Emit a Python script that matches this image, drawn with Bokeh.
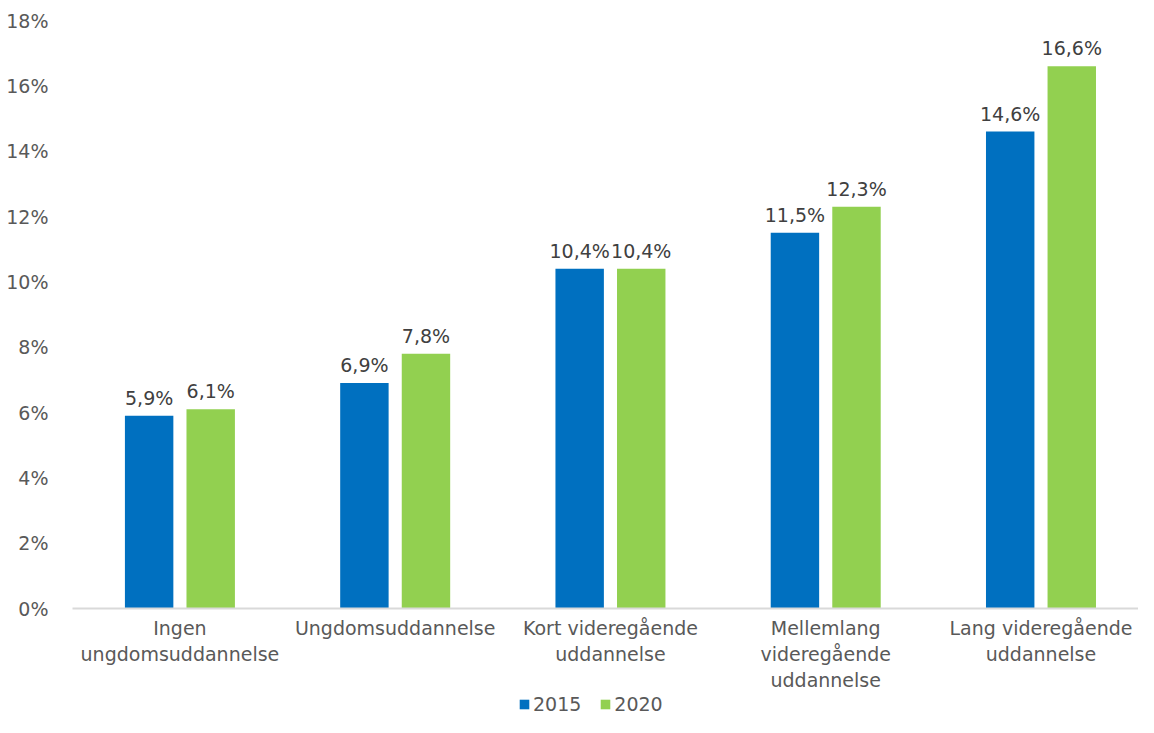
from bokeh.plotting import figure
from bokeh.layouts import column
from bokeh.models import ColumnDataSource, Range1d, Legend, LegendItem, FixedTicker, PrintfTickFormatter
from bokeh.core.properties import value
from bokeh.embed import file_html
from bokeh.resources import INLINE

categories = ["Ingen\nungdomsuddannelse", "Ungdomsuddannelse", "Kort videregående\nuddannelse",
              "Mellemlang\nvideregående\nuddannelse", "Lang videregående\nuddannelse"]
series_names = ["2015", "2020"]
values_2015 = [5.9, 6.9, 10.4, 11.5, 14.6]
values_2020 = [6.1, 7.8, 10.4, 12.3, 16.6]
y_ticks = [0, 2, 4, 6, 8, 10, 12, 14, 16, 18]

BLUE = "#0070C0"
GREEN = "#92D050"
FONT = "DejaVu Sans"

def fmt(v):
    return f"{v:.1f}".replace(".", ",") + "%"

idx = list(range(len(categories)))
off = 0.143
bw = 0.225
src15 = ColumnDataSource(dict(x=[i - off for i in idx], top=values_2015, lab=[fmt(v) for v in values_2015]))
src20 = ColumnDataSource(dict(x=[i + off for i in idx], top=values_2020, lab=[fmt(v) for v in values_2020]))

p = figure(width=1138, height=694, output_backend="svg", toolbar_location=None,
           x_range=Range1d(-0.499, 4.453), y_range=Range1d(0, 18),
           min_border_left=72, min_border_right=0, min_border_top=20, min_border_bottom=86)
p.outline_line_color = None
p.background_fill_color = "white"
p.border_fill_color = "white"
p.xgrid.visible = False
p.ygrid.visible = False

p.vbar(x="x", top="top", width=bw, source=src15, fill_color=BLUE, line_color=None)
p.vbar(x="x", top="top", width=bw, source=src20, fill_color=GREEN, line_color=None)

for s in (src15, src20):
    p.text(x="x", y="top", text="lab", source=s, text_align="center", text_baseline="bottom",
           y_offset=-7, text_font=value(FONT), text_font_size="19px", text_color="#404040")

# y axis
p.yaxis.ticker = FixedTicker(ticks=y_ticks)
p.yaxis.formatter = PrintfTickFormatter(format="%d%%")
p.yaxis.axis_line_color = None
p.yaxis.major_tick_line_color = None
p.yaxis.minor_tick_line_color = None
p.yaxis.major_label_text_font = FONT
p.yaxis.major_label_text_font_size = "19px"
p.yaxis.major_label_text_color = "#595959"
p.yaxis.major_label_standoff = 18

# x axis
p.xaxis.ticker = FixedTicker(ticks=idx)
p.xaxis.major_label_overrides = {i: c for i, c in zip(idx, categories)}
p.xaxis.axis_line_color = "#d9d9d9"
p.xaxis.axis_line_width = 2
p.xaxis.major_tick_line_color = None
p.xaxis.minor_tick_line_color = None
p.xaxis.major_label_text_font = FONT
p.xaxis.major_label_text_font_size = "19px"
p.xaxis.major_label_text_color = "#595959"
p.xaxis.major_label_standoff = 2

# legend strip (bars drawn outside its visible ranges, only the legend shows)
lf = figure(width=1138, height=23, output_backend="svg", toolbar_location=None,
            x_axis_location=None, y_axis_location=None,
            x_range=Range1d(100, 101), y_range=Range1d(100, 101),
            min_border_left=0, min_border_right=0, min_border_top=0, min_border_bottom=0)
lf.outline_line_color = None
lf.xgrid.visible = False
lf.ygrid.visible = False
l15 = lf.vbar(x="x", top="top", width=bw, source=src15, fill_color=BLUE, line_color=None)
l20 = lf.vbar(x="x", top="top", width=bw, source=src20, fill_color=GREEN, line_color=None)
legend = Legend(items=[LegendItem(label=series_names[0], renderers=[l15]),
                       LegendItem(label=series_names[1], renderers=[l20])],
                location=(446, 2), orientation="horizontal",
                border_line_color=None, background_fill_alpha=0,
                padding=0, margin=0, spacing=18, label_standoff=3,
                glyph_width=12, glyph_height=12,
                label_text_font=FONT, label_text_font_size="19px", label_text_color="#595959")
lf.add_layout(legend, "center")

open("out.html", "w").write(file_html(column(p, lf, spacing=0), INLINE))
